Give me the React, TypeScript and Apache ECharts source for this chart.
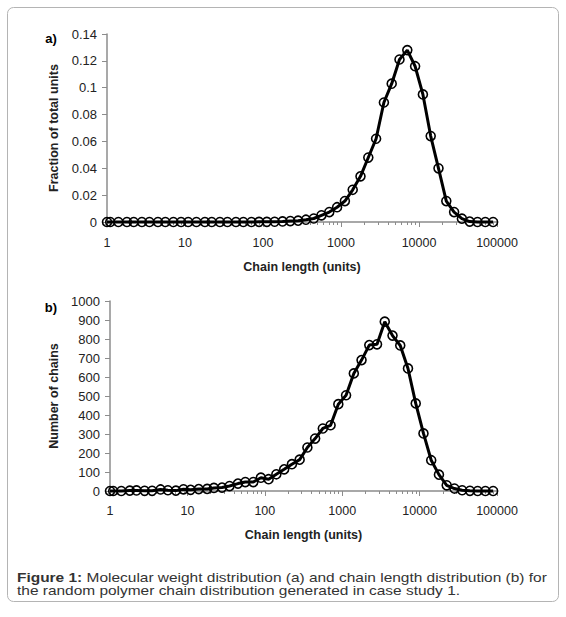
import * as echarts from 'echarts';
import React, { useEffect, useRef } from 'react';

// chain length bins (units)
const chainLengths = [
  1, 1.1, 1.4, 1.8, 2.2, 2.8, 3.5, 4.5, 5.6, 7.1, 8.9, 11, 14, 18, 22, 28, 35,
  45, 56, 71, 89, 112, 141, 178, 224, 282, 355, 447, 562, 708, 891, 1122, 1413,
  1778, 2239, 2818, 3548, 4467, 5623, 7079, 8913, 11220, 14125, 17783, 22387,
  28184, 35481, 44668, 56234, 70795, 89125,
];

// a) fraction of total units
const unitFractions = [
  0, 0, 0, 0, 0, 0, 0, 0, 0, 0, 0, 0, 0, 0, 0, 0, 0, 0, 0, 0, 0.0001, 0.0001,
  0.0002, 0.0004, 0.0007, 0.001, 0.0017, 0.0026, 0.005, 0.0074, 0.011, 0.0156,
  0.024, 0.034, 0.048, 0.062, 0.089, 0.103, 0.121, 0.128, 0.116, 0.095, 0.064,
  0.04, 0.0156, 0.0074, 0.0025, 0.0003, 0, 0, 0,
];

// b) number of chains
const chainCounts = [
  0, 0, 0, 2, 3, 1, 1, 8, 4, 2, 9, 6, 10, 11, 16, 18, 26, 39, 47, 47, 70, 62,
  88, 114, 141, 165, 229, 276, 329, 346, 457, 504, 619, 689, 768, 772, 891,
  818, 766, 645, 461, 303, 162, 86, 30, 13, 4, 1, 0, 0, 0,
];

const decades = [1, 10, 100, 1000, 10000];
const minorSteps = [2, 3, 4, 5, 6, 7, 8, 9];
const minorTickValues = decades.flatMap((d) => minorSteps.map((m) => d * m));

const FONT = 'Arial, "Liberation Sans", sans-serif';
const AXIS_GREY = '#8c8c8c';
const TEXT = '#222';

const xAxisPair = (gridIndex: number, labelMargin: number, nameGap: number) => [
  {
    type: 'log',
    gridIndex,
    position: 'bottom',
    min: 1,
    max: 100000,
    logBase: 10,
    name: 'Chain length (units)',
    nameLocation: 'middle',
    nameGap,
    nameTextStyle: {
      fontFamily: FONT,
      fontSize: 12.5,
      fontWeight: 'bold',
      color: TEXT,
    },
    axisLine: { onZero: false, lineStyle: { color: AXIS_GREY, width: 1.5 } },
    axisTick: { length: 5, lineStyle: { color: AXIS_GREY } },
    axisLabel: {
      margin: labelMargin,
      fontFamily: FONT,
      fontSize: 12.5,
      color: TEXT,
      formatter: (v: number) => String(Math.round(v)),
    },
    splitLine: { show: false },
  },
  {
    // Excel-style minor ticks at 2..9 of each decade
    type: 'log',
    gridIndex,
    position: 'bottom',
    min: 1,
    max: 100000,
    logBase: 10,
    axisLine: { show: false },
    axisTick: {
      length: 3,
      customValues: minorTickValues,
      lineStyle: { color: AXIS_GREY },
    },
    axisLabel: { show: false },
    splitLine: { show: false },
  },
];

const yAxisOf = (
  gridIndex: number,
  max: number,
  interval: number,
  name: string,
  nameGap: number,
) => ({
  type: 'value',
  gridIndex,
  min: 0,
  max,
  interval,
  name,
  nameLocation: 'middle',
  nameGap,
  nameTextStyle: {
    fontFamily: FONT,
    fontSize: 12.5,
    fontWeight: 'bold',
    color: TEXT,
  },
  axisLine: { show: true, onZero: false, lineStyle: { color: AXIS_GREY, width: 1.5 } },
  axisTick: { show: true, length: 5, lineStyle: { color: AXIS_GREY } },
  axisLabel: {
    margin: 10,
    fontFamily: FONT,
    fontSize: 13,
    color: TEXT,
    formatter: (v: number) => String(+v.toFixed(4)),
  },
  splitLine: { show: false },
});

const seriesOf = (
  name: string,
  values: number[],
  axisIndex: number,
  yIndex: number,
) => ({
  name,
  type: 'line',
  xAxisIndex: axisIndex,
  yAxisIndex: yIndex,
  data: chainLengths.map((x, i) => [x, values[i]]),
  symbol: 'circle',
  symbolSize: 9,
  showSymbol: true,
  lineStyle: { color: '#000', width: 3 },
  itemStyle: { color: 'rgba(0,0,0,0)', borderColor: '#000', borderWidth: 1.6 },
  clip: false,
  z: 3,
});

const App: React.FC = () => {
  const chartRef = useRef<HTMLDivElement>(null);

  useEffect(() => {
    let chart: echarts.ECharts | undefined;
    if (chartRef.current) {
      chart = echarts.init(chartRef.current, undefined, { renderer: 'svg' });

      const option = {
        animation: false,
        backgroundColor: '#fff',
        grid: [
          { left: 107, top: 34, width: 390, height: 188, containLabel: false },
          { left: 110, top: 301, width: 387, height: 190, containLabel: false },
        ],
        xAxis: [...xAxisPair(0, 14, 38), ...xAxisPair(1, 13, 37)],
        yAxis: [
          yAxisOf(0, 0.14, 0.02, 'Fraction of total units', 46),
          yAxisOf(1, 1000, 100, 'Number of chains', 49),
        ],
        series: [
          seriesOf('Fraction of total units', unitFractions, 0, 0),
          seriesOf('Number of chains', chainCounts, 2, 1),
        ],
        graphic: [
          {
            type: 'rect',
            shape: { x: 7.5, y: 7.5, width: 551, height: 594, r: 6 },
            style: { fill: 'none', stroke: '#b4b4b4', lineWidth: 1 },
            silent: true,
          },
          {
            type: 'text',
            x: 51,
            y: 38,
            style: {
              text: 'a)',
              fontFamily: FONT,
              fontSize: 13,
              fontWeight: 'bold',
              fill: '#000',
              align: 'center',
              verticalAlign: 'middle',
            },
          },
          {
            type: 'text',
            x: 51,
            y: 307,
            style: {
              text: 'b)',
              fontFamily: FONT,
              fontSize: 13,
              fontWeight: 'bold',
              fill: '#000',
              align: 'center',
              verticalAlign: 'middle',
            },
          },
          {
            // caption glyphs are wide and short in the scan, hence the scaleX
            type: 'text',
            x: 17,
            y: 577,
            scaleX: 1.19,
            style: {
              text: '{b|Figure 1:} Molecular weight distribution (a) and chain length distribution (b) for',
              fontFamily: FONT,
              fontSize: 13,
              fill: '#333',
              verticalAlign: 'middle',
              rich: {
                b: {
                  fontFamily: FONT,
                  fontSize: 13,
                  fontWeight: 'bold',
                  fill: '#333',
                },
              },
            },
          },
          {
            type: 'text',
            x: 17,
            y: 590,
            scaleX: 1.19,
            style: {
              text: 'the random polymer chain distribution generated in case study 1.',
              fontFamily: FONT,
              fontSize: 13,
              fill: '#333',
              verticalAlign: 'middle',
            },
          },
        ],
      };

      chart.setOption(option as echarts.EChartsOption);
    }

    return () => {
      chart?.dispose();
    };
  }, []);

  return (
    <div
      ref={chartRef}
      style={{ position: 'fixed', left: 0, top: 0, width: 566, height: 617 }}
    />
  );
};

export default App;
